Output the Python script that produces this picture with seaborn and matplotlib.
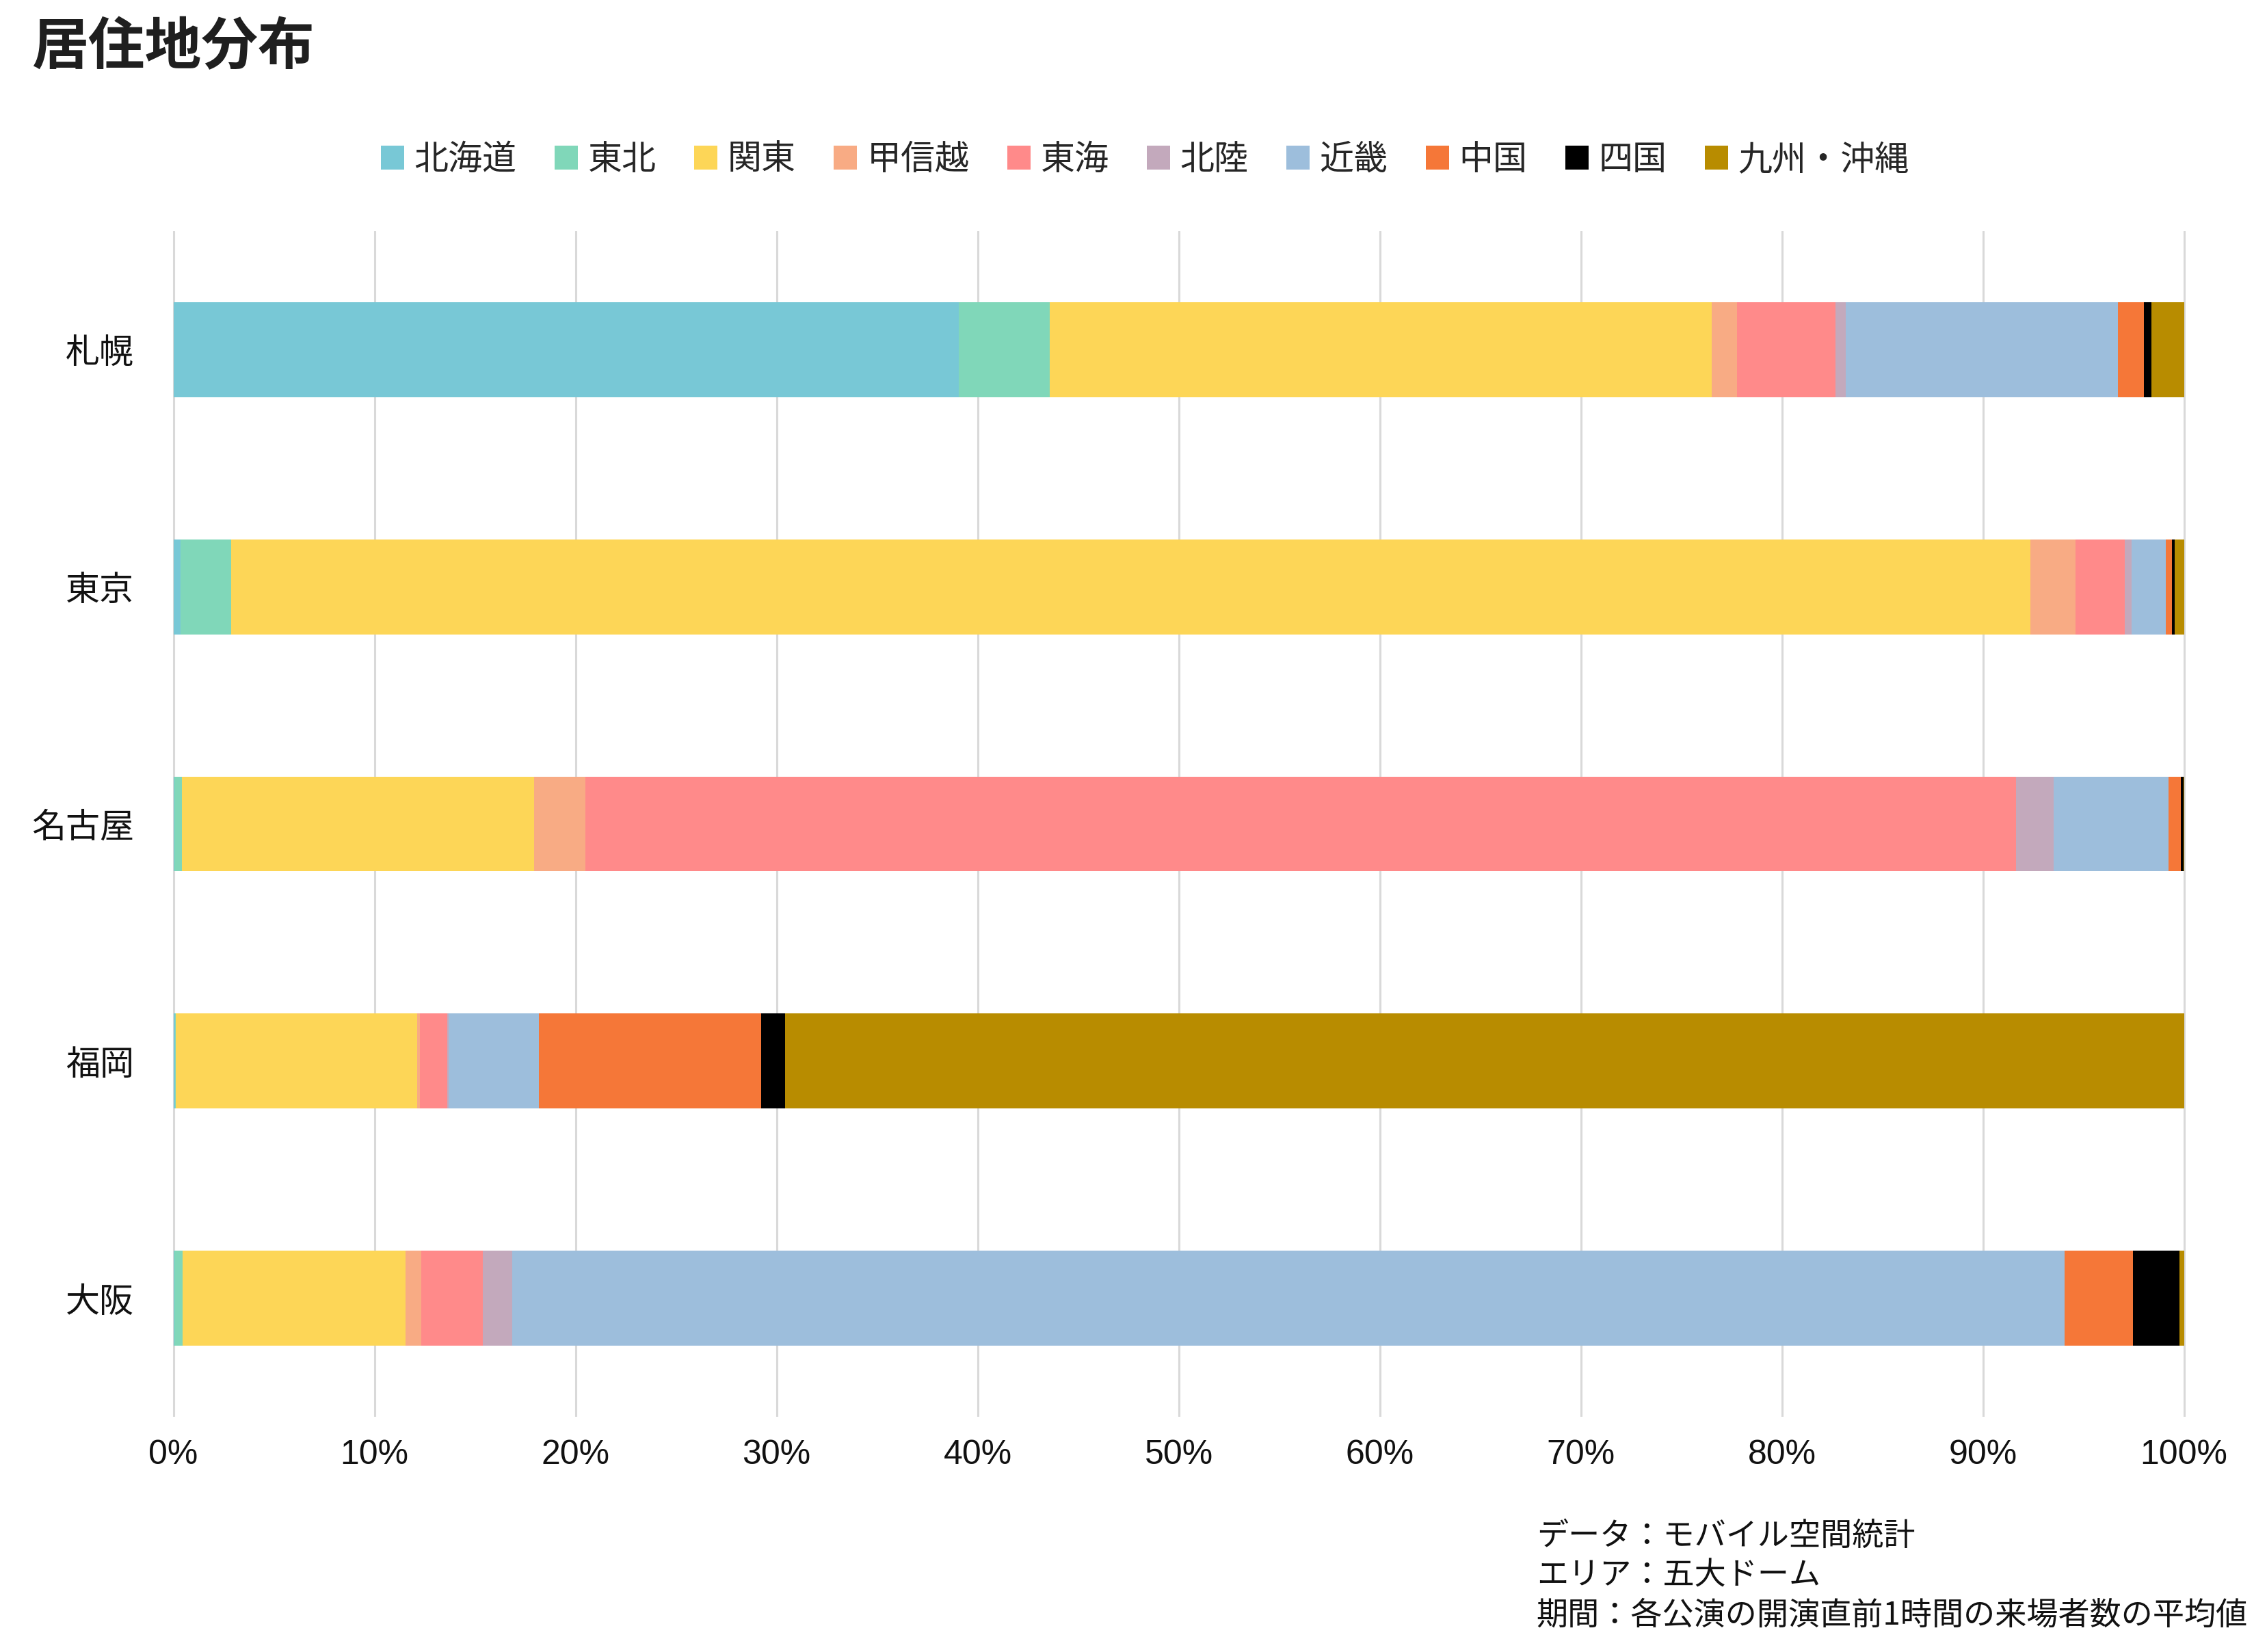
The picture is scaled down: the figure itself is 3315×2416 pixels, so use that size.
import numpy as np
import pandas as pd
import matplotlib
matplotlib.use("Agg")
import matplotlib.pyplot as plt
from matplotlib.patches import Patch
import seaborn as sns

venues = ["札幌", "東京", "名古屋", "福岡", "大阪"]
regions = ["北海道", "東北", "関東", "甲信越", "東海", "北陸", "近畿", "中国", "四国", "九州・沖縄"]
colors = ["#78C8D6", "#80D7B9", "#FDD657", "#F8AB84", "#FF8A8A",
          "#C3A9BC", "#9DBEDC", "#F57738", "#000000", "#B88C00"]

# share (%) of visitors by home region, one list per venue
sapporo = [39.05, 4.53, 32.92, 1.27, 4.90, 0.52, 13.53, 1.28, 0.39, 1.61]
tokyo = [0.36, 2.51, 89.49, 2.25, 2.46, 0.33, 1.70, 0.30, 0.14, 0.46]
nagoya = [0.05, 0.38, 17.51, 2.55, 71.16, 1.87, 5.71, 0.61, 0.14, 0.02]
fukuoka = [0.08, 0.04, 12.01, 0.13, 1.36, 0.06, 4.50, 11.06, 1.17, 69.59]
osaka = [0.05, 0.40, 11.09, 0.78, 3.07, 1.46, 77.22, 3.40, 2.31, 0.22]

x_ticks = [0, 10, 20, 30, 40, 50, 60, 70, 80, 90, 100]
title = "居住地分布"
caption = "データ：モバイル空間統計\nエリア：五大ドーム\n期間：各公演の開演直前1時間の来場者数の平均値"

df = pd.DataFrame([sapporo, tokyo, nagoya, fukuoka, osaka], index=venues, columns=regions)
cum = df.cumsum(axis=1)

sns.set_theme(style="white")
plt.rcParams["font.family"] = ["Noto Sans CJK JP", "DejaVu Sans"]

W, H, DPI = 3315, 2416, 200
fig = plt.figure(figsize=(W / DPI, H / DPI), dpi=DPI)

pad = 0.2
px_per = (3193.5 - 253.5) / 100
left_px = 253.5 - pad * px_per
width_px = (100 + 2 * pad) * px_per
ax = fig.add_axes([left_px / W, 1 - 2072 / H, width_px / W, (2072 - 338) / H])

# draw cumulative totals from the last region backwards so each sits on top
for reg, col in reversed(list(zip(regions, colors))):
    sns.barplot(x=cum[reg].values, y=venues, order=venues, color=col,
                saturation=1, width=0.4, errorbar=None, linewidth=0,
                orient="h", ax=ax)

ax.set_xlim(-pad, 100 + pad)
ax.set_ylim(4.5, -0.5)
ax.set_xticks(x_ticks)
ax.set_xticklabels([f"{t}%" for t in x_ticks], fontfamily=["Liberation Sans", "DejaVu Sans"])
ax.set_xlabel("")
ax.set_ylabel("")
ax.grid(axis="x", color="#D9D9D9", linewidth=1.1)
ax.grid(axis="y", visible=False)
ax.set_axisbelow(True)
for s in ax.spines.values():
    s.set_visible(False)
ax.tick_params(axis="x", length=0, pad=12, labelsize=18, labelcolor="#111111")
ax.tick_params(axis="y", length=0, pad=18.5, labelsize=18, labelcolor="#111111")

fig.text(46 / W, 1 - 27 / H, title, ha="left", va="top", fontsize=29.8,
         fontweight="bold", color="#1f1f1f")

handles = [Patch(facecolor=c, edgecolor="none", label=r) for r, c in zip(regions, colors)]
fig.legend(handles=handles, loc="center", bbox_to_anchor=(0.505, 1 - 234 / H),
           ncol=len(regions), frameon=False, fontsize=18,
           handlelength=0.68, handleheight=0.68, handletextpad=0.3,
           columnspacing=1.1, borderaxespad=0)

fig.text(3287 / W, 1 - 2222 / H, caption, ha="right", va="top",
         multialignment="left", fontsize=16.6, linespacing=1.25, color="#111111")

fig.savefig("out.png", dpi=DPI)
